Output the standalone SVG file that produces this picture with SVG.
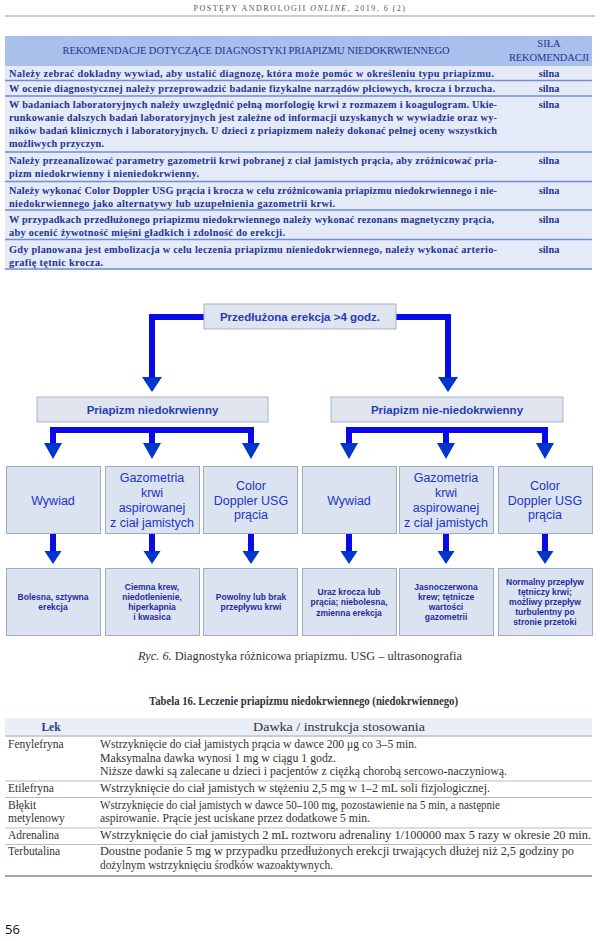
<svg xmlns="http://www.w3.org/2000/svg" width="600" height="941" viewBox="0 0 600 941">
<style>
.hdr{font-family:"Liberation Serif",serif;font-size:8px;fill:#555;letter-spacing:1.5px}
.t1{font-family:"Liberation Serif",serif;font-weight:bold;font-size:10.3px;fill:#1f3591}
.t1h{font-family:"Liberation Serif",serif;font-size:10.5px;fill:#1f3591}
.sep1{stroke:#6f8fd2;stroke-width:1.5}
.box{fill:#dfe4ee;stroke:#a9b3c6;stroke-width:1}
.box3{fill:#dce3f0;stroke:#9eabc2;stroke-width:1}
.l12{font-family:"Liberation Sans",Arial,sans-serif;font-weight:bold;font-size:11.5px;fill:#1f3db5;text-anchor:middle}
.l3{font-family:"Liberation Sans",Arial,sans-serif;font-size:12.5px;fill:#1a34c8;text-anchor:middle}
.l4{font-family:"Liberation Sans",Arial,sans-serif;font-weight:bold;font-size:8.5px;fill:#1f2c9c;text-anchor:middle}
.shaft{stroke:#0a0ae8;stroke-width:6;fill:none}
.head{fill:#0036cc}
.cap{font-family:"Liberation Serif",serif;font-size:11.5px;fill:#333}
.t2{font-family:"Liberation Serif",serif;font-size:11.5px;fill:#333}
.sep2{stroke:#aaa;stroke-width:0.8}
</style>
<rect width="600" height="941" fill="#fff"/>
<g id="page-header">
<text class="hdr" x="300" y="11" text-anchor="middle" textLength="213">POSTĘPY ANDROLOGII <tspan font-style="italic">ONLINE</tspan>, 2019, 6 (2)</text>
<line x1="5" y1="16" x2="595" y2="16" stroke="#999" stroke-width="1"/>
</g>
<g id="table-recommendations">
<rect x="5" y="36" width="587" height="30" fill="#a9bfec"/>
<rect x="5" y="66" width="587" height="204" fill="#e4eaf8"/>
<text class="t1h" x="256" y="54" text-anchor="middle" textLength="387">REKOMENDACJE DOTYCZĄCE DIAGNOSTYKI PRIAPIZMU NIEDOKRWIENNEGO</text>
<text class="t1h" x="549" y="47" text-anchor="middle">SIŁA</text>
<text class="t1h" x="549" y="61" text-anchor="middle" textLength="80">REKOMENDACJI</text>
<line class="sep1" x1="5" y1="80.5" x2="592" y2="80.5"/>
<line class="sep1" x1="5" y1="96" x2="592" y2="96"/>
<line class="sep1" x1="5" y1="152" x2="592" y2="152"/>
<line class="sep1" x1="5" y1="181.5" x2="592" y2="181.5"/>
<line class="sep1" x1="5" y1="210" x2="592" y2="210"/>
<line class="sep1" x1="5" y1="239.5" x2="592" y2="239.5"/>
<line class="sep1" x1="5" y1="269" x2="592" y2="269"/>
<text class="t1" x="9" y="76.5" textLength="485">Należy zebrać dokładny wywiad, aby ustalić diagnozę, która może pomóc w określeniu typu priapizmu.</text>
<text class="t1" x="9" y="92" textLength="486">W ocenie diagnostycznej należy przeprowadzić badanie fizykalne narządów płciowych, krocza i brzucha.</text>
<text class="t1" x="9" y="108" textLength="488">W badaniach laboratoryjnych należy uwzględnić pełną morfologię krwi z rozmazem i koagulogram. Ukie-</text>
<text class="t1" x="9" y="121" textLength="488">runkowanie dalszych badań laboratoryjnych jest zależne od informacji uzyskanych w wywiadzie oraz wy-</text>
<text class="t1" x="9" y="134" textLength="488">ników badań klinicznych i laboratoryjnych. U dzieci z priapizmem należy dokonać pełnej oceny wszystkich</text>
<text class="t1" x="9" y="147" textLength="95">możliwych przyczyn.</text>
<text class="t1" x="9" y="164" textLength="488">Należy przeanalizować parametry gazometrii krwi pobranej z ciał jamistych prącia, aby zróżnicować pria-</text>
<text class="t1" x="9" y="177" textLength="190">pizm niedokrwienny i nieniedokrwienny.</text>
<text class="t1" x="9" y="193.5" textLength="488">Należy wykonać Color Doppler USG prącia i krocza w celu zróżnicowania priapizmu niedokrwiennego i nie-</text>
<text class="t1" x="9" y="206.5" textLength="326">niedokrwiennego jako alternatywy lub uzupełnienia gazometrii krwi.</text>
<text class="t1" x="9" y="223" textLength="485">W przypadkach przedłużonego priapizmu niedokrwiennego należy wykonać rezonans magnetyczny prącia,</text>
<text class="t1" x="9" y="236" textLength="276">aby ocenić żywotność mięśni gładkich i zdolność do erekcji.</text>
<text class="t1" x="9" y="252.5" textLength="488">Gdy planowana jest embolizacja w celu leczenia priapizmu nieniedokrwiennego, należy wykonać arterio-</text>
<text class="t1" x="9" y="265.5" textLength="94">grafię tętnic krocza.</text>
<text class="t1" x="549" y="76.5" text-anchor="middle">silna</text>
<text class="t1" x="549" y="92" text-anchor="middle">silna</text>
<text class="t1" x="549" y="108" text-anchor="middle">silna</text>
<text class="t1" x="549" y="164" text-anchor="middle">silna</text>
<text class="t1" x="549" y="193.5" text-anchor="middle">silna</text>
<text class="t1" x="549" y="223" text-anchor="middle">silna</text>
<text class="t1" x="549" y="252.5" text-anchor="middle">silna</text>
</g>
<g id="connectors">
<polyline class="shaft" points="204,317 152,317 152,378"/>
<polyline class="shaft" points="396,317 448,317 448,378"/>
<polygon class="head" points="142,377 162,377 152,392"/>
<polygon class="head" points="438,377 458,377 448,392"/>
<polyline class="shaft" points="53,444 53,430 251,430 251,444"/>
<line class="shaft" x1="152" y1="430" x2="152" y2="444"/>
<polyline class="shaft" points="349,444 349,430 545,430 545,444"/>
<line class="shaft" x1="446" y1="430" x2="446" y2="444"/>
<polygon class="head" points="44,443 62,443 53,459"/>
<polygon class="head" points="143,443 161,443 152,459"/>
<polygon class="head" points="242,443 260,443 251,459"/>
<polygon class="head" points="340,443 358,443 349,459"/>
<polygon class="head" points="437,443 455,443 446,459"/>
<polygon class="head" points="536,443 554,443 545,459"/>
<line class="shaft" x1="53" y1="533" x2="53" y2="552"/>
<line class="shaft" x1="152" y1="533" x2="152" y2="552"/>
<line class="shaft" x1="251" y1="533" x2="251" y2="552"/>
<line class="shaft" x1="349" y1="533" x2="349" y2="552"/>
<line class="shaft" x1="446" y1="533" x2="446" y2="552"/>
<line class="shaft" x1="545" y1="533" x2="545" y2="552"/>
<polygon class="head" points="44.5,551 61.5,551 53,564"/>
<polygon class="head" points="143.5,551 160.5,551 152,564"/>
<polygon class="head" points="242.5,551 259.5,551 251,564"/>
<polygon class="head" points="340.5,551 357.5,551 349,564"/>
<polygon class="head" points="437.5,551 454.5,551 446,564"/>
<polygon class="head" points="536.5,551 553.5,551 545,564"/>
</g>
<g id="n-start">
<rect class="box" x="204" y="304" width="192" height="25"/>
<text class="l12" x="300" y="320.5">Przedłużona erekcja &gt;4 godz.</text>
</g>
<g id="n-ischemic">
<rect class="box" x="37" y="397" width="231" height="25"/>
<text class="l12" x="152.5" y="413.5">Priapizm niedokrwienny</text>
</g>
<g id="n-nonischemic">
<rect class="box" x="331" y="397" width="232" height="25"/>
<text class="l12" x="447" y="413.5">Priapizm nie-niedokrwienny</text>
</g>
<g id="n-l-wywiad">
<rect class="box3" x="6.5" y="466.5" width="94" height="67"/>
<text class="l3" x="53" y="504.5">Wywiad</text>
</g>
<g id="n-l-gazometria">
<rect class="box3" x="105.5" y="466.5" width="94" height="67"/>
<text class="l3" x="152" y="482">Gazometria</text>
<text class="l3" x="152" y="497">krwi</text>
<text class="l3" x="152" y="512">aspirowanej</text>
<text class="l3" x="152" y="526.5">z ciał jamistych</text>
</g>
<g id="n-l-doppler">
<rect class="box3" x="203.5" y="466.5" width="94" height="67"/>
<text class="l3" x="251" y="489.5">Color</text>
<text class="l3" x="251" y="504.5">Doppler USG</text>
<text class="l3" x="251" y="518.5">prącia</text>
</g>
<g id="n-r-wywiad">
<rect class="box3" x="302.5" y="466.5" width="94" height="67"/>
<text class="l3" x="349" y="504.5">Wywiad</text>
</g>
<g id="n-r-gazometria">
<rect class="box3" x="399.5" y="466.5" width="94" height="67"/>
<text class="l3" x="446" y="482">Gazometria</text>
<text class="l3" x="446" y="497">krwi</text>
<text class="l3" x="446" y="512">aspirowanej</text>
<text class="l3" x="446" y="526.5">z ciał jamistych</text>
</g>
<g id="n-r-doppler">
<rect class="box3" x="498.5" y="466.5" width="94" height="67"/>
<text class="l3" x="545" y="489.5">Color</text>
<text class="l3" x="545" y="504.5">Doppler USG</text>
<text class="l3" x="545" y="518.5">prącia</text>
</g>
<g id="n-l-res1">
<rect class="box3" x="6.5" y="568.5" width="94" height="67"/>
<text class="l4" x="53" y="599.5">Bolesna, sztywna</text>
<text class="l4" x="53" y="609.5">erekcja</text>
</g>
<g id="n-l-res2">
<rect class="box3" x="105.5" y="568.5" width="94" height="67"/>
<text class="l4" x="152" y="589.5">Ciemna krew,</text>
<text class="l4" x="152" y="599.5">niedotlenienie,</text>
<text class="l4" x="152" y="609.5">hiperkapnia</text>
<text class="l4" x="152" y="619.5">i kwasica</text>
</g>
<g id="n-l-res3">
<rect class="box3" x="203.5" y="568.5" width="94" height="67"/>
<text class="l4" x="251" y="599.5">Powolny lub brak</text>
<text class="l4" x="251" y="609.5">przepływu krwi</text>
</g>
<g id="n-r-res1">
<rect class="box3" x="302.5" y="568.5" width="94" height="67"/>
<text class="l4" x="349" y="595">Uraz krocza lub</text>
<text class="l4" x="349" y="605">prącia; niebolesna,</text>
<text class="l4" x="349" y="615.5">zmienna erekcja</text>
</g>
<g id="n-r-res2">
<rect class="box3" x="399.5" y="568.5" width="94" height="67"/>
<text class="l4" x="446" y="589.5">Jasnoczerwona</text>
<text class="l4" x="446" y="599.5">krew; tętnicze</text>
<text class="l4" x="446" y="609.5">wartości</text>
<text class="l4" x="446" y="619.5">gazometrii</text>
</g>
<g id="n-r-res3">
<rect class="box3" x="498.5" y="568.5" width="94" height="67"/>
<text class="l4" x="545" y="584.5">Normalny przepływ</text>
<text class="l4" x="545" y="594.5">tętniczy krwi;</text>
<text class="l4" x="545" y="604.5">możliwy przepływ</text>
<text class="l4" x="545" y="614.5">turbulentny po</text>
<text class="l4" x="545" y="624.5">stronie przetoki</text>
</g>
<g id="captions">
<text class="cap" x="300" y="660" text-anchor="middle" textLength="324" lengthAdjust="spacingAndGlyphs"><tspan font-style="italic">Ryc. 6.</tspan> Diagnostyka różnicowa priapizmu. USG – ultrasonografia</text>
<text class="cap" x="303.5" y="705" text-anchor="middle" font-weight="bold" font-size="10" textLength="309" lengthAdjust="spacingAndGlyphs">Tabela 16. Leczenie priapizmu niedokrwiennego (niedokrwiennego)</text>
</g>
<g id="table-treatment">
<rect x="5" y="718" width="587" height="17" fill="#e9eef8"/>
<text class="t2" x="51" y="731" text-anchor="middle" font-weight="bold" style="fill:#2b3c8c">Lek</text>
<text class="t2" x="339" y="731" text-anchor="middle" textLength="172" lengthAdjust="spacingAndGlyphs">Dawka / instrukcja stosowania</text>
<line x1="5" y1="736" x2="592" y2="736" stroke="#999" stroke-width="1"/>
<text class="t2" x="8" y="748">Fenylefryna</text>
<text class="t2" x="100" y="748" textLength="317" lengthAdjust="spacingAndGlyphs">Wstrzyknięcie do ciał jamistych prącia w dawce 200 μg co 3–5 min.</text>
<text class="t2" x="100" y="761.5" textLength="236" lengthAdjust="spacingAndGlyphs">Maksymalna dawka wynosi 1 mg w ciągu 1 godz.</text>
<text class="t2" x="100" y="775" textLength="407" lengthAdjust="spacingAndGlyphs">Niższe dawki są zalecane u dzieci i pacjentów z ciężką chorobą sercowo-naczyniową.</text>
<line class="sep2" x1="5" y1="781" x2="592" y2="781"/>
<text class="t2" x="8" y="792">Etilefryna</text>
<text class="t2" x="100" y="792" textLength="390" lengthAdjust="spacingAndGlyphs">Wstrzyknięcie do ciał jamistych w stężeniu 2,5 mg w 1–2 mL soli fizjologicznej.</text>
<line class="sep2" x1="5" y1="797.5" x2="592" y2="797.5"/>
<text class="t2" x="8" y="809">Błękit</text>
<text class="t2" x="8" y="822">metylenowy</text>
<text class="t2" x="100" y="809" textLength="400" lengthAdjust="spacingAndGlyphs">Wstrzyknięcie do ciał jamistych w dawce 50–100 mg, pozostawienie na 5 min, a następnie</text>
<text class="t2" x="100" y="822" textLength="270" lengthAdjust="spacingAndGlyphs">aspirowanie. Prącie jest uciskane przez dodatkowe 5 min.</text>
<line class="sep2" x1="5" y1="828" x2="592" y2="828"/>
<text class="t2" x="8" y="839">Adrenalina</text>
<text class="t2" x="100" y="839" textLength="491" lengthAdjust="spacingAndGlyphs">Wstrzyknięcie do ciał jamistych 2 mL roztworu adrenaliny 1/100000 max 5 razy w okresie 20 min.</text>
<line class="sep2" x1="5" y1="844.5" x2="592" y2="844.5"/>
<text class="t2" x="8" y="855">Terbutalina</text>
<text class="t2" x="100" y="855" textLength="474" lengthAdjust="spacingAndGlyphs">Doustne podanie 5 mg w przypadku przedłużonych erekcji trwających dłużej niż 2,5 godziny po</text>
<text class="t2" x="100" y="868.5" textLength="233" lengthAdjust="spacingAndGlyphs">dożylnym wstrzyknięciu środków wazoaktywnych.</text>
<line x1="5" y1="876" x2="592" y2="876" stroke="#888" stroke-width="1.5"/>
</g>
<g id="page-number">
<text x="5" y="934" font-family="'Open Sans','Liberation Sans',sans-serif" font-size="13" fill="#111">56</text>
</g>
</svg>
